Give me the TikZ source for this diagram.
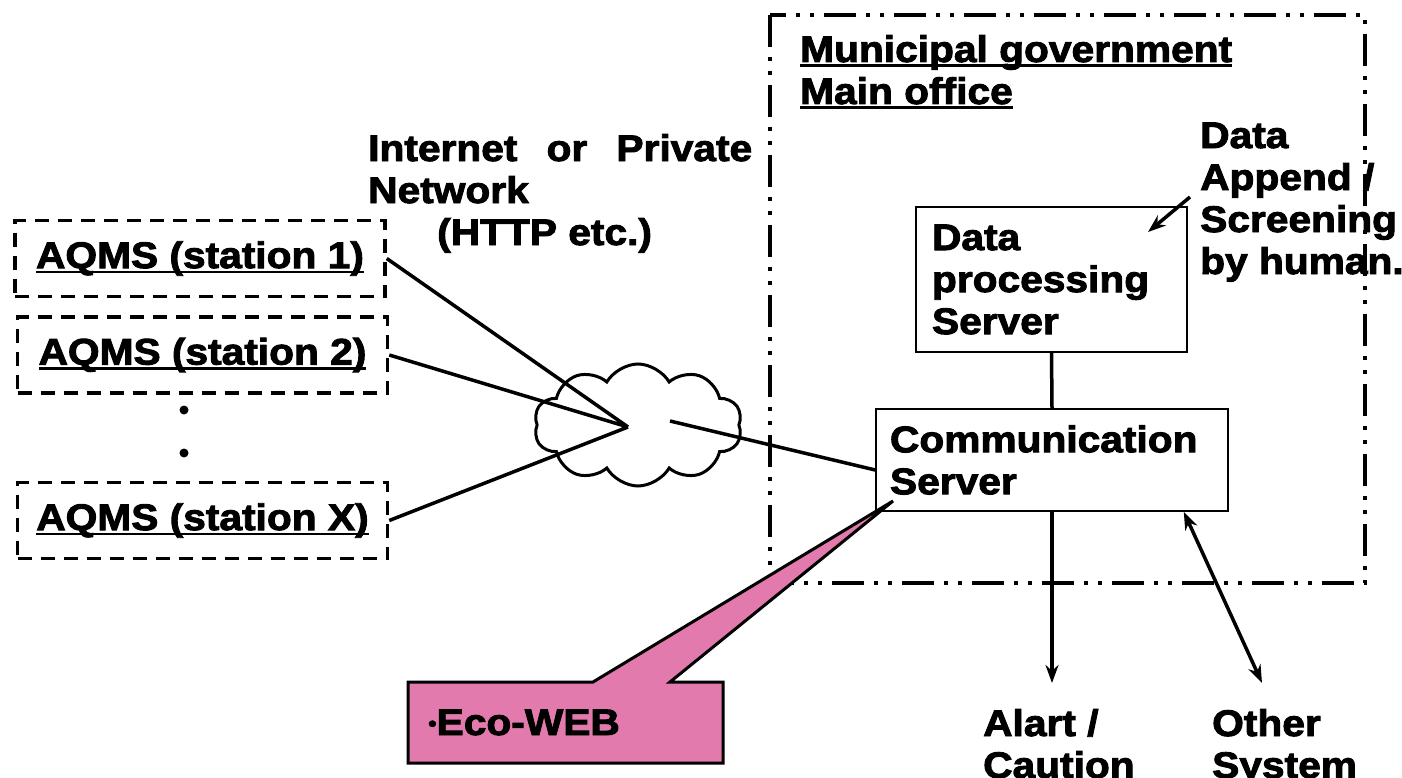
\documentclass[tikz,border=0pt]{standalone}
\usepackage{fontspec}
\setmainfont{Liberation Sans}[FakeStretch=1.1,BoldFeatures={FakeStretch=1.1,FakeBold=2.5}]
\usepackage{xcolor}
\usetikzlibrary{arrows.meta,shapes.symbols}
\definecolor{ecopink}{RGB}{227,122,174}
\newcommand{\ulbox}[1]{\setbox0\hbox{#1}\rlap{\rule[-5pt]{\wd0}{2.5pt}}\box0}

\begin{document}
\begin{tikzpicture}[x=1pt,y=-1pt,
every node/.style={font=\fontsize{37}{42}\selectfont\bfseries,inner sep=0pt},
stationbox/.style={draw,line width=3.5pt,dash pattern=on 14pt off 9pt,minimum width=370pt,minimum height=76pt},
serverbox/.style={draw,line width=1.5pt,align=left,inner xsep=16pt},
conn/.style={line width=3.5pt},
arr/.style={line width=3.5pt,-{Stealth[length=18pt,width=13pt]}}]
\useasboundingbox(0,0)rectangle(1402,778);
\draw[line width=4pt,dash pattern=on 32pt off 10pt on 4pt off 10pt on 4pt off 10pt](770,15)rectangle(1365,583);
\node[anchor=base west,align=left](office)at(800,104){\ulbox{Municipal government}\\\ulbox{Main office}};
\node[stationbox](s1)at(200,258.5){\ulbox{AQMS (station 1)}};
\node[stationbox](s2)at(202.5,355){\ulbox{AQMS (station 2)}};
\node[stationbox](sx)at(202.5,520.5){\ulbox{AQMS (station X)}};
\fill(184,410)circle[radius=4.5pt](184,453)circle[radius=4.5pt];
\node[draw,cloud,cloud puffs=10,cloud puff arc=120,aspect=1.7,line width=3pt,minimum width=208pt,minimum height=122pt](net)at(638,425){};
\coordinate(hub)at(628,427);
\coordinate(netout)at(670,421);
\draw[conn](s1.east)--(hub)(s2.east)--(hub)(sx.east)--(hub);
\node[anchor=base west,align=left](inet)at(368,245){\makebox[384pt][s]{Internet or Private}\\Network\\\hspace{69pt}(HTTP etc.)};
\node[serverbox,minimum width=271pt,minimum height=145pt,text width=239pt](dps)at(1051.5,279.5){Data\\processing\\Server};
\node[serverbox,inner xsep=14pt,minimum width=352pt,minimum height=102pt,text width=324pt](comm)at(1052,460){Communication\\Server};
\draw[conn](netout)--([yshift=-10pt]comm.west);
\draw[conn](dps.south)--(comm.north);
\node[anchor=base west,align=left](human)at(1200,274){Data\\Append /\\Screening\\by human.};
\coordinate(hum)at(1190,197);
\coordinate(dpsin)at(1148,232);
\draw[arr](hum)--(dpsin);
\coordinate(alarm)at(1052,683);
\coordinate(other)at(1262,683);
\draw[arr](comm.south)--(alarm);
\draw[line width=3.5pt,{Stealth[length=18pt,width=13pt]}-{Stealth[length=18pt,width=13pt]}]([xshift=-45pt]comm.south east)--(other);
\node[anchor=base west,align=left](alert)at(983,778){Alart /\\Caution};
\node[anchor=base west,align=left](othersys)at(1212,778){Other\\System};
\coordinate(tip)at(893,501);
\draw[fill=ecopink,line width=3pt](408,682)--(593,682)--(tip)--(670,682)--(723,682)--(723,763)--(408,763)--cycle;
\node[anchor=base west](eco)at(428,735){\raisebox{4pt}{\fontsize{22}{22}\selectfont •}Eco-WEB};
\end{tikzpicture}
\end{document}
